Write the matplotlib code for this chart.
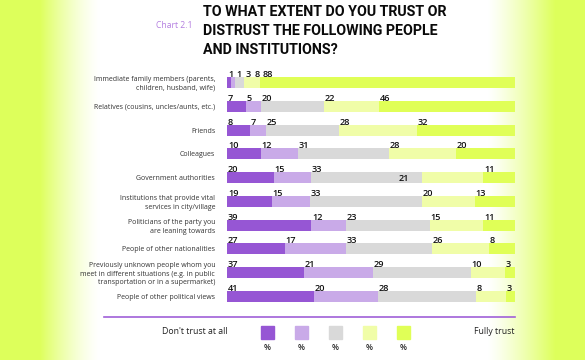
import numpy as np
import matplotlib
matplotlib.use('Agg')
import matplotlib.pyplot as plt
from matplotlib.patches import Rectangle

# categories, top to bottom
categories = [
    'Immediate family members (parents,\nchildren, husband, wife)',
    'Relatives (cousins, uncles/aunts, etc.)',
    'Friends',
    'Colleagues',
    'Government authorities',
    'Institutions that provide vital\nservices in city/village',
    'Politicians of the party you\nare leaning towards',
    'People of other nationalities',
    'Previously unknown people whom you\nmeet in different situations (e.g. in public\ntransportation or in a supermarket)',
    'People of other political views',
]

# numbers printed on the chart
printed = [
    [1, 1, 3, 8, 88],
    [7, 5, 20, 22, 46],
    [8, 7, 25, 28, 32],
    [10, 12, 31, 28, 20],
    [20, 15, 33, 21, 11],
    [19, 15, 33, 20, 13],
    [39, 12, 23, 15, 11],
    [27, 17, 33, 26, 8],
    [37, 21, 29, 10, 3],
    [41, 20, 28, 8, 3],
]

# segment lengths as drawn in the original (share of the bar, %)
shares = [
    [1.4, 1.3, 3.2, 5.4, 88.6],
    [6.6, 5.1, 21.9, 19.2, 47.2],
    [8.0, 5.4, 25.3, 27.2, 34.0],
    [11.8, 12.7, 31.7, 23.3, 20.5],
    [16.3, 12.8, 38.4, 21.3, 11.1],
    [15.6, 13.2, 38.8, 18.5, 13.9],
    [29.2, 12.2, 29.1, 18.5, 11.1],
    [20.1, 21.2, 29.9, 19.8, 9.0],
    [26.7, 24.0, 33.9, 11.9, 3.5],
    [30.2, 22.1, 34.0, 10.5, 3.1],
]

colors = ['#9656d4', '#c9aae8', '#d9d9d9', '#f0fda8', '#e0ff57']

W, H = 585, 360
fig = plt.figure(figsize=(W / 100, H / 100), dpi=100)

# background: yellow-green fading to white at both sides
bg = fig.add_axes([0, 0, 1, 1], zorder=0)
xs = np.arange(W) + 0.5
left = np.clip((100 - xs) / 60.0, 0, 1) ** 1.4
right = np.clip((xs - 488) / 67.0, 0, 1) ** 1.2
amt = np.maximum(left, right)
lime = np.array([0.87, 1.0, 0.36])
row = 1 - amt[:, None] * (1 - lime[None, :])
img = np.repeat(row[None, :, :], 2, axis=0)
bg.imshow(img, aspect='auto', extent=[0, 1, 0, 1])
bg.axis('off')

# main bar axes
x0, x1 = 227, 515
top, bottom = 70.6, 308.4
ax = fig.add_axes([x0 / W, 1 - bottom / H, (x1 - x0) / W, (bottom - top) / H], zorder=2)
ax.patch.set_alpha(0)

bar_h = 0.46
for i, sh in enumerate(shares):
    sh = np.array(sh)
    sh = sh / sh.sum() * 100
    lefts = np.concatenate([[0], np.cumsum(sh)[:-1]])
    ax.barh(i, sh, left=lefts, height=bar_h, color=colors, edgecolor='none')
    prev_end = -10
    for j, val in enumerate(printed[i]):
        if i == 4 and j == 3:
            ax.text(lefts[2] + sh[2] - 4.3, i + 0.02, str(val), ha='right', va='center',
                    fontsize=6.6, color='#111111', family='Open Sans', weight='semibold')
            continue
        xp = max(lefts[j] + 0.3, prev_end + 0.8)
        ax.text(xp, i - bar_h / 2, str(val), ha='left', va='baseline',
                fontsize=6.6, color='#111111', family='Open Sans', weight='semibold')
        prev_end = xp + 2.25 * len(str(val))

ax.set_xlim(0, 100)
ax.set_ylim(len(categories) - 0.5, -0.5)
ax.set_yticks(range(len(categories)))
ax.set_yticklabels(categories, fontsize=5.0, family='Open Sans', color='#333333',
                   linespacing=1.3)
ax.tick_params(axis='y', length=0, pad=8.5)
ax.set_xticks([])
for s in ax.spines.values():
    s.set_visible(False)

# title
fig.text(203 / W, 1 - 5.5 / H, 'TO WHAT EXTENT DO YOU TRUST OR\nDISTRUST THE FOLLOWING PEOPLE\nAND INSTITUTIONS?',
         ha='left', va='top', fontsize=10.3, weight='bold', family='Roboto', color='#0a0a0a',
         linespacing=1.42, zorder=3)
fig.text(192 / W, 1 - 26 / H, 'Chart 2.1', ha='right', va='center', fontsize=6.2,
         family='Open Sans', color='#b47fe0', zorder=3)

# separator line
fig.add_artist(plt.Line2D([104 / W, 515 / W], [1 - 316.7 / H] * 2, color='#a060d8',
                          lw=1.2, zorder=3))

# legend
fig.text(227.5 / W, 1 - 331 / H, "Don't trust at all", ha='right', va='center', fontsize=6.3,
         family='Open Sans', color='#222222', zorder=3)
fig.text(515 / W, 1 - 331 / H, 'Fully trust', ha='right', va='center', fontsize=6.3,
         family='Open Sans', color='#222222', zorder=3)
for k, c in enumerate(colors):
    cx = 267.5 + 34 * k
    fig.add_artist(Rectangle(((cx - 6.5) / W, 1 - 338.7 / H), 13 / W, 12.7 / H,
                             transform=fig.transFigure, color=c, zorder=3))
    fig.text(cx / W, 1 - 347 / H, '%', ha='center', va='center', fontsize=5.8,
             family='Open Sans', weight='semibold', color='#222222', zorder=3)

fig.savefig('out.png', dpi=100)
